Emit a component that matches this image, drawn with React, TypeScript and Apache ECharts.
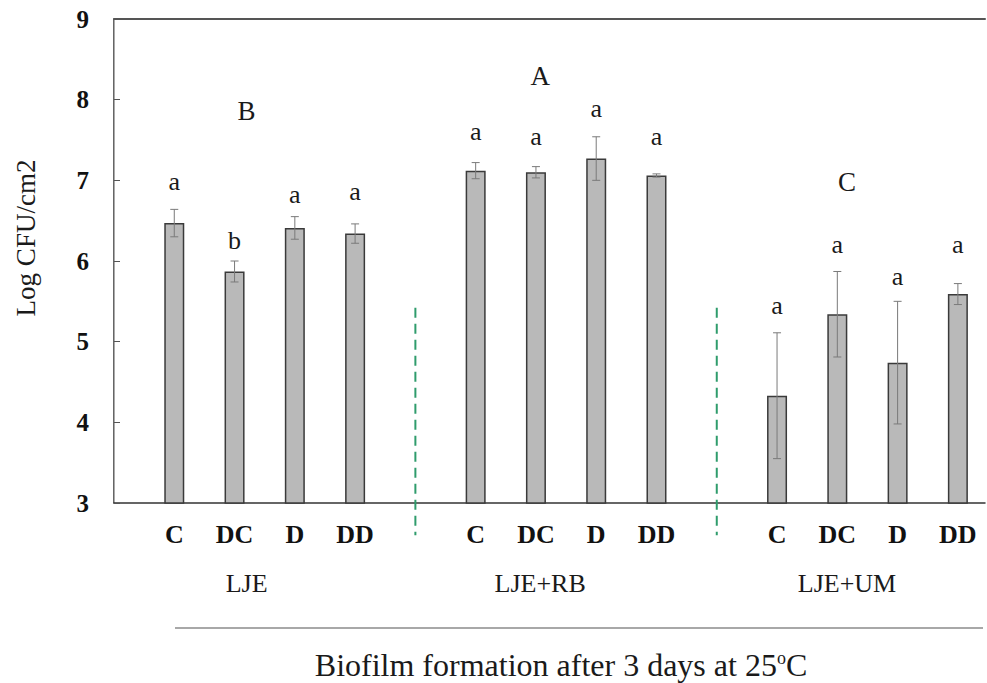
import React, { useEffect, useRef } from "react";
import * as echarts from "echarts";

// ---- data ----
const groups = ["LJE", "LJE+RB", "LJE+UM"];
const treatments = ["C", "DC", "D", "DD"];
const meanLJE = [6.47, 5.87, 6.41, 6.34];
const meanRB = [7.12, 7.1, 7.27, 7.06];
const meanUM = [4.33, 5.34, 4.74, 5.59];
const sdLJE = [0.17, 0.13, 0.14, 0.12];
const sdRB = [0.1, 0.07, 0.27, 0.02];
const sdUM = [0.78, 0.53, 0.76, 0.13];
const lettersLJE = ["a", "b", "a", "a"];
const lettersRB = ["a", "a", "a", "a"];
const lettersUM = ["a", "a", "a", "a"];
const letterYLJE = [6.98, 6.25, 6.82, 6.86];
const letterYRB = [7.6, 7.54, 7.89, 7.54];
const letterYUM = [5.45, 6.2, 5.81, 6.2];
const groupLetters = ["B", "A", "C"];
const groupLetterY = [7.86, 8.29, 6.98];
const groupLabelX = [2.2, 7.07, 12.16];
const separatorX = [5, 10];
const separatorRange = [5.42, 2.6];
const yTicks = [3, 4, 5, 6, 7, 8, 9];
const yName = "Log CFU/cm2";
const xTitle = "Biofilm formation after 3 days at 25";

const SERIF = "Liberation Serif";

export default function App() {
  const ref = useRef<HTMLDivElement>(null);
  useEffect(() => {
    document.body.style.margin = "0";
    const chart = echarts.init(ref.current!, null, { renderer: "svg" });
    const means = [meanLJE, meanRB, meanUM];
    const sds = [sdLJE, sdRB, sdUM];
    const letters = [lettersLJE, lettersRB, lettersUM];
    const letterYs = [letterYLJE, letterYRB, letterYUM];
    const barData: any[] = [];
    const errData: any[] = [];
    const letterData: any[] = [];
    const labelMap: Record<number, string> = {};
    groups.forEach((g, gi) => {
      treatments.forEach((t, ti) => {
        const x = gi * 5 + ti + 1;
        labelMap[x] = t;
        barData.push([x, means[gi][ti]]);
        errData.push([x, means[gi][ti], sds[gi][ti]]);
        letterData.push([x, letterYs[gi][ti], letters[gi][ti]]);
      });
    });
    const groupData = groups.map((g, gi) => [groupLabelX[gi], groupLetterY[gi], groupLetters[gi], g]);

    const txt = (text: string, size: number, extra: any = {}) => ({
      text,
      fill: "#1a1a1a",
      fontFamily: SERIF,
      fontSize: size,
      align: "center",
      verticalAlign: "middle",
      ...extra,
    });

    const option: any = {
      animation: false,
      textStyle: { fontFamily: SERIF },
      grid: { left: 114, top: 19, right: 2, bottom: 180 },
      xAxis: [
        {
          type: "value",
          min: 0,
          max: 14.45,
          interval: 1,
          axisLine: { show: true, lineStyle: { color: "#333", width: 1.5 } },
          axisTick: { show: false },
          splitLine: { show: false },
          axisLabel: {
            margin: 18,
            fontFamily: SERIF,
            fontWeight: "bold",
            fontSize: 26,
            color: "#111",
            showMaxLabel: false,
            formatter: (v: number) => {
              const r = Math.round(v);
              return Math.abs(v - r) < 1e-6 && labelMap[r] ? labelMap[r] : "";
            },
          },
        },
        {
          type: "value",
          position: "top",
          min: 0,
          max: 14.45,
          axisLine: { show: true, lineStyle: { color: "#555", width: 2 } },
          axisTick: { show: false },
          axisLabel: { show: false },
          splitLine: { show: false },
        },
      ],
      yAxis: [
        {
          type: "value",
          min: yTicks[0],
          max: yTicks[yTicks.length - 1],
          interval: 1,
          axisLine: { show: true, lineStyle: { color: "#333", width: 1.5 } },
          axisTick: { show: true, inside: true, length: 6, lineStyle: { color: "#555" } },
          splitLine: { show: false },
          axisLabel: {
            margin: 25,
            fontFamily: SERIF,
            fontWeight: "bold",
            fontSize: 25,
            color: "#111",
          },
        },
        {
          type: "value",
          position: "right",
          min: yTicks[0],
          max: yTicks[yTicks.length - 1],
          axisLine: { show: true, lineStyle: { color: "#aaa", width: 1 } },
          axisTick: { show: false },
          axisLabel: { show: false },
          splitLine: { show: false },
        },
      ],
      series: [
        {
          type: "bar",
          data: barData,
          barWidth: 20,
          itemStyle: { color: "#b9b9b9", borderColor: "#3a3a3a", borderWidth: 1.5 },
          z: 2,
        },
        {
          type: "custom",
          data: errData,
          z: 3,
          renderItem: (params: any, api: any) => {
            const x = api.value(0);
            const m = api.value(1);
            const s = api.value(2);
            const top = api.coord([x, m + s]);
            const bot = api.coord([x, m - s]);
            const style = { stroke: "#7a7a7a", lineWidth: 1 };
            return {
              type: "group",
              children: [
                { type: "line", shape: { x1: top[0], y1: top[1], x2: bot[0], y2: bot[1] }, style },
                { type: "line", shape: { x1: top[0] - 4, y1: top[1], x2: top[0] + 4, y2: top[1] }, style },
                { type: "line", shape: { x1: bot[0] - 4, y1: bot[1], x2: bot[0] + 4, y2: bot[1] }, style },
              ],
            };
          },
        },
        {
          type: "custom",
          data: separatorX.map((x) => [x]),
          z: 3,
          renderItem: (params: any, api: any) => {
            const x = api.value(0);
            const p1 = api.coord([x, separatorRange[0]]);
            const p2 = api.coord([x, separatorRange[1]]);
            return {
              type: "line",
              shape: { x1: p1[0], y1: p1[1], x2: p2[0], y2: p2[1] },
              style: { stroke: "#2f9c6c", lineWidth: 2, lineDash: [10, 6] },
            };
          },
        },
        {
          type: "custom",
          data: letterData,
          z: 4,
          renderItem: (params: any, api: any) => {
            const p = api.coord([api.value(0), api.value(1)]);
            return {
              type: "text",
              x: p[0],
              y: p[1],
              style: txt(letterData[params.dataIndex][2], 26),
            };
          },
        },
        {
          type: "custom",
          data: groupData,
          z: 4,
          renderItem: (params: any, api: any) => {
            const d = groupData[params.dataIndex];
            const p = api.coord([d[0], d[1]]);
            const b = api.coord([d[0], yTicks[0]]);
            return {
              type: "group",
              children: [
                { type: "text", x: p[0], y: p[1], style: txt(d[2], 27) },
                { type: "text", x: b[0], y: b[1] + 80, style: txt(d[3], 26) },
              ],
            };
          },
        },
      ],
      graphic: [
        {
          type: "text",
          x: 26,
          y: 238,
          rotation: Math.PI / 2,
          style: txt(yName, 27),
        },
        {
          type: "line",
          shape: { x1: 175, y1: 628, x2: 983, y2: 628 },
          style: { stroke: "#a8a8a8", lineWidth: 2 },
        },
        {
          type: "text",
          x: 561,
          y: 665,
          style: txt(xTitle + "{sup|o}C", 32, {
            rich: { sup: { fontSize: 18, fontFamily: SERIF, padding: [0, 0, 14, 0], fill: "#1a1a1a" } },
          }),
        },
      ],
    };
    chart.setOption(option);
    return () => chart.dispose();
  }, []);
  return <div ref={ref} style={{ width: 987, height: 683 }} />;
}
